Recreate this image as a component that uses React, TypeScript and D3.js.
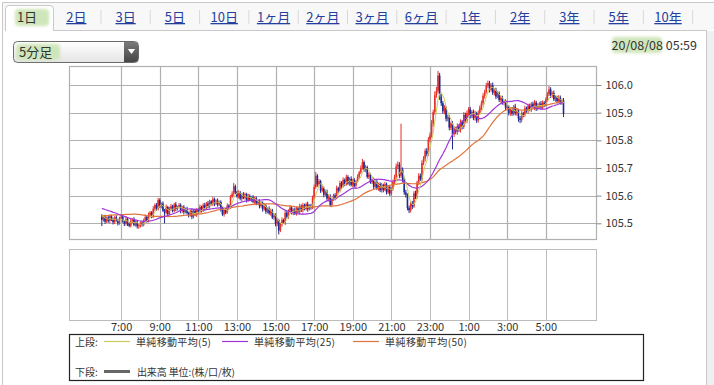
import * as d3 from "d3";
import { useEffect, useRef } from "react";

// 期間タブ
const tabs = ["1日", "2日", "3日", "5日", "10日", "1ヶ月", "2ヶ月", "3ヶ月", "6ヶ月", "1年", "2年", "3年", "5年", "10年"];

// 軸ラベル
const priceTicks = [105.5, 105.6, 105.7, 105.8, 105.9, 106.0];
const tickHours = [7, 9, 11, 13, 15, 17, 19, 21, 23, 1, 3, 5];

// 前日分の終値（移動平均の計算用）
const prevCloses = [
  105.488, 105.495, 105.491, 105.502, 105.497, 105.493, 105.486, 105.499, 105.504, 105.496,
  105.49, 105.498, 105.505, 105.493, 105.487, 105.496, 105.501, 105.494, 105.489, 105.497,
  105.503, 105.509, 105.518, 105.531, 105.542,
  105.553, 105.561, 105.568, 105.559, 105.564, 105.572, 105.566, 105.558, 105.563, 105.57,
  105.574, 105.567, 105.561, 105.556, 105.562, 105.555, 105.549, 105.553, 105.545, 105.541,
  105.536, 105.532, 105.529, 105.525,
];

// 5分足 終値 6:00 〜 5:55
const closes = [
  // 6時
  105.512, 105.524, 105.506, 105.521, 105.509, 105.526, 105.513, 105.504, 105.522, 105.511, 105.501, 105.518,
  // 7時
  105.524, 105.507, 105.498, 105.516, 105.499, 105.491, 105.509, 105.514, 105.494, 105.506, 105.489, 105.493,
  // 8時
  105.502, 105.494, 105.511, 105.523, 105.508, 105.531, 105.539, 105.524, 105.553, 105.566, 105.551, 105.584,
  // 9時
  105.562, 105.571, 105.546, 105.538, 105.559, 105.534, 105.553, 105.562, 105.545, 105.568, 105.552, 105.559,
  // 10時
  105.566, 105.544, 105.558, 105.541, 105.551, 105.537, 105.529, 105.544, 105.524, 105.546, 105.531, 105.548,
  // 11時
  105.541, 105.559, 105.547, 105.566, 105.555, 105.572, 105.561, 105.579, 105.569, 105.587, 105.571, 105.582,
  // 12時
  105.568, 105.577, 105.551, 105.532, 105.548, 105.539, 105.564, 105.558, 105.596, 105.607, 105.634, 105.612,
  // 13時
  105.598, 105.611, 105.589, 105.604, 105.592, 105.605, 105.583, 105.599, 105.586, 105.594, 105.578, 105.591,
  // 14時
  105.571, 105.579, 105.562, 105.574, 105.551, 105.563, 105.542, 105.553, 105.536, 105.547, 105.521, 105.529,
  // 15時
  105.498, 105.511, 105.474, 105.496, 105.512, 105.503, 105.538, 105.524, 105.546, 105.557, 105.538, 105.549,
  // 16時
  105.536, 105.554, 105.541, 105.562, 105.547, 105.566, 105.552, 105.569, 105.551, 105.564, 105.557, 105.592,
  // 17時
  105.631, 105.672, 105.641, 105.652, 105.618, 105.627, 105.603, 105.614, 105.589, 105.596, 105.566, 105.587,
  // 18時
  105.601, 105.592, 105.627, 105.618, 105.646, 105.634, 105.657, 105.642, 105.668, 105.644, 105.661, 105.639,
  // 19時
  105.655, 105.636, 105.652, 105.668, 105.684, 105.699, 105.721, 105.694, 105.703, 105.668, 105.676, 105.648,
  // 20時
  105.657, 105.632, 105.649, 105.628, 105.642, 105.619, 105.638, 105.621, 105.641, 105.612, 105.631, 105.608,
  // 21時
  105.624, 105.649, 105.668, 105.706, 105.712, 105.672, 105.694, 105.658, 105.612, 105.603, 105.556, 105.547,
  // 22時
  105.572, 105.561, 105.608, 105.597, 105.648, 105.672, 105.659, 105.718, 105.734, 105.762, 105.751, 105.803,
  // 23時
  105.818, 105.861, 105.902, 105.963, 105.978, 106.034, 105.958, 105.934, 105.905, 105.917, 105.878, 105.884,
  // 0時
  105.846, 105.861, 105.822, 105.843, 105.831, 105.851, 105.838, 105.867, 105.849, 105.892, 105.871, 105.899,
  // 1時
  105.912, 105.889, 105.903, 105.881, 105.897, 105.872, 105.899, 105.918, 105.934, 105.961, 105.975, 105.998,
  // 2時
  106.006, 105.982, 105.999, 105.972, 105.981, 105.958, 105.971, 105.946, 105.953, 105.935, 105.939, 105.917,
  // 3時
  105.921, 105.899, 105.911, 105.896, 105.922, 105.899, 105.908, 105.879, 105.874, 105.897, 105.891, 105.916,
  // 4時
  105.906, 105.924, 105.911, 105.932, 105.918, 105.937, 105.914, 105.926, 105.933, 105.919, 105.936, 105.928,
  // 5時
  105.947, 105.966, 105.984, 105.962, 105.971, 105.948, 105.955, 105.941, 105.954, 105.937, 105.945, 105.896,
];

// ヒゲの長さ（単位 0.001円）
const upperWicks = [
  8, 5, 7, 4, 9, 6, 5, 8, 4, 7, 5, 6,
  6, 8, 4, 9, 5, 6, 7, 4, 8, 5, 6, 7,
  5, 7, 6, 9, 4, 8, 6, 5, 9, 6, 7, 8,
  6, 5, 8, 6, 9, 4, 7, 8, 5, 6, 9, 5,
  7, 6, 5, 8, 6, 9, 5, 6, 8, 5, 6, 7,
  6, 9, 5, 7, 8, 5, 9, 6, 5, 8, 6, 5,
  8, 5, 6, 9, 5, 7, 8, 5, 6, 9, 12, 6,
  5, 8, 6, 5, 9, 6, 5, 8, 6, 5, 8, 6,
  6, 5, 8, 6, 5, 9, 6, 5, 8, 6, 5, 8,
  7, 8, 5, 6, 9, 5, 8, 6, 5, 9, 6, 5,
  8, 6, 5, 9, 6, 8, 5, 6, 9, 5, 6, 8,
  9, 14, 6, 8, 5, 9, 6, 5, 8, 6, 9, 5,
  6, 8, 9, 5, 8, 6, 9, 5, 8, 6, 5, 9,
  6, 8, 5, 9, 6, 10, 12, 6, 8, 5, 9, 6,
  5, 8, 6, 9, 5, 6, 8, 5, 9, 6, 5, 8,
  6, 9, 8, 10, 12, 9, 166, 8, 6, 9, 5, 8,
  6, 9, 8, 10, 6, 9, 8, 10, 9, 8, 10, 9,
  10, 12, 9, 14, 15, 17, 10, 9, 8, 10, 6, 9,
  8, 6, 9, 8, 6, 10, 8, 9, 6, 10, 8, 9,
  8, 9, 6, 8, 10, 6, 9, 8, 10, 9, 8, 10,
  10, 9, 8, 10, 6, 9, 8, 6, 9, 8, 6, 9,
  8, 6, 9, 8, 6, 10, 8, 6, 9, 8, 6, 9,
  6, 8, 9, 6, 8, 9, 6, 8, 6, 9, 8, 6,
  8, 9, 12, 8, 6, 9, 8, 6, 9, 8, 6, 8,
];
const lowerWicks = [
  22, 6, 8, 5, 7, 9, 5, 8, 6, 5, 9, 6,
  6, 5, 8, 6, 9, 5, 6, 8, 5, 6, 8, 9,
  8, 6, 5, 8, 6, 5, 9, 6, 5, 8, 6, 5,
  6, 8, 5, 38, 6, 9, 5, 8, 6, 5, 8, 6,
  5, 8, 6, 9, 5, 6, 8, 5, 9, 6, 5, 8,
  6, 5, 8, 6, 9, 5, 6, 8, 5, 6, 9, 5,
  8, 6, 9, 5, 8, 6, 5, 9, 6, 5, 8, 6,
  5, 8, 6, 9, 5, 6, 8, 5, 6, 9, 5, 8,
  6, 5, 8, 6, 9, 5, 8, 6, 5, 9, 6, 8,
  9, 8, 14, 6, 8, 5, 9, 6, 8, 5, 6, 9,
  6, 8, 5, 9, 6, 8, 5, 6, 9, 5, 8, 6,
  8, 6, 9, 5, 8, 6, 9, 5, 8, 10, 6, 8,
  6, 9, 5, 8, 6, 9, 5, 8, 6, 5, 9, 6,
  8, 6, 9, 5, 8, 6, 5, 8, 9, 6, 8, 5,
  6, 9, 5, 8, 10, 6, 8, 9, 5, 8, 6, 9,
  8, 6, 9, 8, 10, 9, 8, 10, 9, 10, 9, 10,
  8, 10, 6, 9, 8, 10, 6, 9, 8, 10, 9, 8,
  10, 9, 12, 10, 9, 8, 12, 10, 9, 11, 10, 9,
  10, 9, 55, 10, 9, 11, 8, 10, 9, 8, 10, 9,
  8, 10, 9, 8, 10, 9, 8, 6, 9, 8, 10, 6,
  8, 9, 6, 8, 10, 9, 6, 8, 9, 6, 8, 9,
  8, 9, 10, 8, 6, 9, 10, 12, 12, 9, 8, 6,
  8, 9, 6, 8, 6, 9, 8, 6, 9, 8, 6, 8,
  6, 8, 6, 9, 8, 6, 9, 8, 6, 8, 9, 12,
];

// 移動平均の期間と色
const maPeriods = [5, 25, 50];
const maColors = ["#c9cc5c", "#a136d6", "#e0743c"];
const maLabels = ["単純移動平均(5)", "単純移動平均(25)", "単純移動平均(50)"];

const JP = '"Noto Sans CJK JP", "Noto Sans", sans-serif';

export default function App() {
  const ref = useRef<SVGSVGElement>(null);

  useEffect(() => {
    const W = 714,
      H = 385;
    const plot = { left: 69, right: 596, top: 66, bottom: 239 };
    const vol = { top: 249, bottom: 320 };

    const svg = d3.select(ref.current);
    svg.selectAll("*").remove();

    const defs = svg.append("defs");
    defs
      .append("filter")
      .attr("id", "soft")
      .attr("x", "-20%")
      .attr("y", "-40%")
      .attr("width", "140%")
      .attr("height", "180%")
      .append("feGaussianBlur")
      .attr("stdDeviation", 1.6);
    const g1 = defs.append("linearGradient").attr("id", "selbg").attr("x1", 0).attr("y1", 0).attr("x2", 0).attr("y2", 1);
    g1.append("stop").attr("offset", "0%").attr("stop-color", "#ffffff");
    g1.append("stop").attr("offset", "100%").attr("stop-color", "#e4e4e4");
    const g2 = defs.append("linearGradient").attr("id", "btnbg").attr("x1", 0).attr("y1", 0).attr("x2", 0).attr("y2", 1);
    g2.append("stop").attr("offset", "0%").attr("stop-color", "#7a7a7a");
    g2.append("stop").attr("offset", "100%").attr("stop-color", "#464646");
    defs
      .append("clipPath")
      .attr("id", "plotclip")
      .append("rect")
      .attr("x", plot.left)
      .attr("y", plot.top)
      .attr("width", plot.right - plot.left)
      .attr("height", plot.bottom - plot.top);

    // 背景と枠
    svg.append("rect").attr("width", W).attr("height", H).attr("fill", "#fff");
    svg.append("rect").attr("x", 2).attr("y", 2).attr("width", W - 2).attr("height", 28).attr("fill", "#f8f8f8");
    svg.append("rect").attr("x", 707).attr("y", 31).attr("width", 7).attr("height", H - 31).attr("fill", "#eeeff2");
    const border = "#c9c9c9";
    svg.append("line").attr("x1", 2).attr("x2", W).attr("y1", 2.5).attr("y2", 2.5).attr("stroke", border);
    svg.append("line").attr("x1", 2.5).attr("x2", 2.5).attr("y1", 2).attr("y2", H).attr("stroke", border);
    svg.append("line").attr("x1", 706.5).attr("x2", 706.5).attr("y1", 30).attr("y2", H).attr("stroke", border);
    svg.append("line").attr("x1", 54).attr("x2", 706.5).attr("y1", 30.5).attr("y2", 30.5).attr("stroke", border);

    // タブ
    const tabX = d3.scalePoint().domain(tabs).range([27, 668]);
    const step = tabX.step();
    svg
      .append("path")
      .attr("d", "M5.5,31 V9 Q5.5,5.5 9,5.5 H50 Q53.5,5.5 53.5,9 V31")
      .attr("fill", "#fff")
      .attr("stroke", border);
    svg
      .append("rect")
      .attr("x", 15)
      .attr("y", 9)
      .attr("width", 34)
      .attr("height", 17)
      .attr("rx", 4)
      .attr("fill", "#cfe6ba")
      .attr("filter", "url(#soft)");
    tabs.forEach((t, i) => {
      const cx = tabX(t)!;
      svg
        .append("text")
        .attr("x", cx)
        .attr("y", 22)
        .attr("text-anchor", "middle")
        .attr("font-family", JP)
        .attr("font-size", 13)
        .attr("fill", i === 0 ? "#333" : "#24409c")
        .attr("text-decoration", i === 0 ? "none" : "underline")
        .text(t);
      if (i > 0) {
        svg
          .append("line")
          .attr("x1", cx + step / 2)
          .attr("x2", cx + step / 2)
          .attr("y1", 10)
          .attr("y2", 24)
          .attr("stroke", "#d8d8d8");
      }
    });

    // 足種セレクト
    svg
      .append("rect")
      .attr("x", 13.5)
      .attr("y", 41.5)
      .attr("width", 125)
      .attr("height", 21)
      .attr("rx", 4)
      .attr("fill", "url(#selbg)")
      .attr("stroke", "#6a6a6a");
    svg
      .append("path")
      .attr("d", "M124,42 H134.5 Q138,42 138,45.5 V58.5 Q138,62 134.5,62 H124 Z")
      .attr("fill", "url(#btnbg)");
    svg.append("path").attr("d", "M127.8,49 H135.2 L131.5,54 Z").attr("fill", "#fff");
    svg
      .append("rect")
      .attr("x", 16)
      .attr("y", 44)
      .attr("width", 44)
      .attr("height", 16)
      .attr("rx", 4)
      .attr("fill", "#cfe6ba")
      .attr("filter", "url(#soft)");
    svg
      .append("text")
      .attr("x", 19)
      .attr("y", 57)
      .attr("font-family", JP)
      .attr("font-size", 13)
      .attr("fill", "#333")
      .text("5分足");

    // 日時
    svg
      .append("rect")
      .attr("x", 612)
      .attr("y", 37)
      .attr("width", 50)
      .attr("height", 16)
      .attr("rx", 4)
      .attr("fill", "#cfe6ba")
      .attr("filter", "url(#soft)");
    svg
      .append("text")
      .attr("x", 697)
      .attr("y", 50)
      .attr("text-anchor", "end")
      .attr("font-family", JP)
      .attr("font-size", 12.5)
      .attr("fill", "#333")
      .text("20/08/08 05:59");

    // スケール
    const start = new Date(2020, 7, 7, 6, 0);
    const xScale = d3
      .scaleTime()
      .domain([new Date(2020, 7, 7, 4, 18), new Date(2020, 7, 8, 7, 36)])
      .range([plot.left, plot.right]);
    const yScale = d3.scaleLinear().domain([105.5, 106.0]).range([223.3, 85]);
    const tickDates = tickHours.map((h) => new Date(2020, 7, h >= 6 ? 7 : 8, h, 0));

    const grid = "#b0b0b0";
    // 上段グリッド
    const up = svg.append("g");
    up.selectAll("line.h")
      .data(priceTicks)
      .join("line")
      .attr("x1", plot.left)
      .attr("x2", plot.right)
      .attr("y1", (d) => Math.round(yScale(d)) + 0.5)
      .attr("y2", (d) => Math.round(yScale(d)) + 0.5)
      .attr("stroke", grid)
      .attr("stroke-width", 1.2);
    up.selectAll("line.v")
      .data(tickDates)
      .join("line")
      .attr("class", "v")
      .attr("x1", (d) => Math.round(xScale(d)) + 0.5)
      .attr("x2", (d) => Math.round(xScale(d)) + 0.5)
      .attr("y1", plot.top)
      .attr("y2", plot.bottom)
      .attr("stroke", grid)
      .attr("stroke-width", 1.2);
    up.append("rect")
      .attr("x", plot.left + 0.5)
      .attr("y", plot.top + 0.5)
      .attr("width", plot.right - plot.left)
      .attr("height", plot.bottom - plot.top)
      .attr("fill", "none")
      .attr("stroke", grid)
      .attr("stroke-width", 1.2);

    // 右の価格軸
    const yAxis = svg
      .append("g")
      .attr("transform", `translate(${plot.right + 0.5},0)`)
      .call(
        d3
          .axisRight(yScale)
          .tickValues(priceTicks)
          .tickSize(5)
          .tickPadding(4)
          .tickFormat((d) => d3.format(".1f")(d as number))
      );
    yAxis.select(".domain").remove();
    yAxis.selectAll("line").attr("stroke", "#888");
    yAxis.selectAll("text").attr("font-family", JP).attr("font-size", 11).attr("fill", "#333");

    // ローソク足
    const bars = closes.map((c, i) => {
      const o = i === 0 ? prevCloses[prevCloses.length - 1] : closes[i - 1];
      return {
        t: d3.timeMinute.offset(start, 5 * i),
        o,
        c,
        h: Math.max(o, c) + upperWicks[i] / 1000,
        l: Math.min(o, c) - lowerWicks[i] / 1000,
      };
    });
    const candles = svg.append("g").attr("clip-path", "url(#plotclip)");
    const colorOf = (d: any) => (d.c >= d.o ? "#e8302a" : "#1b2a94");
    candles
      .selectAll("line")
      .data(bars)
      .join("line")
      .attr("x1", (d) => xScale(d.t))
      .attr("x2", (d) => xScale(d.t))
      .attr("y1", (d) => yScale(d.h))
      .attr("y2", (d) => yScale(d.l))
      .attr("stroke", colorOf)
      .attr("stroke-width", 1);
    candles
      .selectAll("rect")
      .data(bars)
      .join("rect")
      .attr("x", (d) => xScale(d.t) - 0.8)
      .attr("width", 1.6)
      .attr("y", (d) => yScale(Math.max(d.o, d.c)))
      .attr("height", (d) => Math.max(1, Math.abs(yScale(d.o) - yScale(d.c))))
      .attr("fill", colorOf);

    // 移動平均
    const all = prevCloses.concat(closes);
    const off = prevCloses.length;
    const line = d3
      .line<{ t: Date; v: number }>()
      .x((d) => xScale(d.t))
      .y((d) => yScale(d.v));
    maPeriods
      .slice()
      .reverse()
      .forEach((n) => {
        const k = maPeriods.indexOf(n);
        const pts = closes.map((_, i) => ({
          t: bars[i].t,
          v: d3.mean(all.slice(off + i - n + 1, off + i + 1)) as number,
        }));
        candles
          .append("path")
          .datum(pts)
          .attr("d", line)
          .attr("fill", "none")
          .attr("stroke", maColors[k])
          .attr("stroke-width", k === 0 ? 1 : 1.2);
      });

    // 下段（出来高）
    const lo = svg.append("g");
    lo.selectAll("line")
      .data(tickDates)
      .join("line")
      .attr("x1", (d) => Math.round(xScale(d)) + 0.5)
      .attr("x2", (d) => Math.round(xScale(d)) + 0.5)
      .attr("y1", vol.top)
      .attr("y2", vol.bottom)
      .attr("stroke", "#bcbcbc");
    lo.append("rect")
      .attr("x", plot.left + 0.5)
      .attr("y", vol.top + 0.5)
      .attr("width", plot.right - plot.left)
      .attr("height", vol.bottom - vol.top)
      .attr("fill", "none")
      .attr("stroke", "#bcbcbc");

    const xAxis = svg
      .append("g")
      .attr("transform", `translate(0,${vol.bottom})`)
      .call(
        d3
          .axisBottom(xScale)
          .tickValues(tickDates)
          .tickSize(0)
          .tickPadding(3)
          .tickFormat((d) => d3.timeFormat("%-H:%M")(d as Date))
      );
    xAxis.select(".domain").remove();
    xAxis.selectAll("text").attr("font-family", JP).attr("font-size", 11).attr("fill", "#333");

    // 凡例
    svg
      .append("rect")
      .attr("x", 69.5)
      .attr("y", 334.5)
      .attr("width", 574)
      .attr("height", 46)
      .attr("fill", "#fff")
      .attr("stroke", "#222")
      .attr("stroke-width", 1.2);
    const lg = svg.append("g").attr("font-family", JP).attr("font-size", 10).attr("fill", "#333");
    lg.append("text").attr("x", 75).attr("y", 345.5).text("上段:");
    const legX = [104, 222, 353];
    const legW = [75, 81, 82];
    maLabels.forEach((t, i) => {
      lg.append("line")
        .attr("x1", legX[i])
        .attr("x2", legX[i] + 26)
        .attr("y1", 341.5)
        .attr("y2", 341.5)
        .attr("stroke", maColors[i])
        .attr("stroke-width", 1.2);
      lg.append("text")
        .attr("x", legX[i] + 32)
        .attr("y", 345.5)
        .attr("textLength", legW[i])
        .attr("lengthAdjust", "spacing")
        .text(t);
    });
    lg.append("text").attr("x", 75).attr("y", 375.5).text("下段:");
    lg.append("line")
      .attr("x1", 104)
      .attr("x2", 130)
      .attr("y1", 371.5)
      .attr("y2", 371.5)
      .attr("stroke", "#666")
      .attr("stroke-width", 3);
    lg.append("text").attr("x", 137).attr("y", 375.5).attr("textLength", 98).attr("lengthAdjust", "spacing").text("出来高 単位:(株/口/枚)");
  }, []);

  return (
    <svg
      ref={ref}
      width={714}
      height={385}
      style={{ position: "absolute", left: 0, top: 0, display: "block" }}
    />
  );
}
